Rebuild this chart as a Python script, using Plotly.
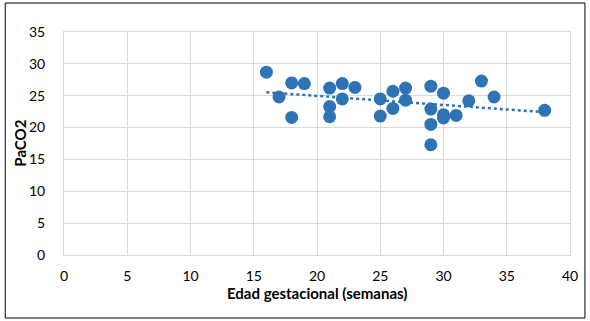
import numpy as np
import plotly.graph_objects as go

edad = [16, 17, 18, 18, 19, 21, 21, 21, 22, 22, 23, 25, 25, 26, 26, 27, 27,
        29, 29, 29, 29, 30, 30, 30, 31, 32, 33, 34, 38]
paco2 = [28.7, 24.8, 27.0, 21.6, 26.9, 26.2, 23.3, 21.7, 26.9, 24.5, 26.3, 24.5, 21.8,
         25.7, 23.0, 26.2, 24.3, 26.5, 22.9, 20.5, 17.3, 25.4, 22.0, 21.5, 21.9,
         24.2, 27.3, 24.8, 22.7]
x_title = "Edad gestacional (semanas)"
y_title = "PaCO2"

blue = "#2E74B5"
grid = "#D9D9D9"
font_family = "Lato, 'Open Sans', sans-serif"

coef = np.polyfit(edad, paco2, 1)
xt = np.array([min(edad), max(edad)])
yt = np.polyval(coef, xt)

fig = go.Figure()
fig.add_trace(go.Scatter(x=xt, y=yt, mode="lines",
                         line=dict(color=blue, width=2.5, dash="dot"),
                         hoverinfo="skip", showlegend=False))
fig.add_trace(go.Scatter(x=edad, y=paco2, mode="markers",
                         marker=dict(color=blue, size=13, line=dict(width=0)),
                         showlegend=False))

W, L, R, T, B = 590, 64, 18, 32, 66
pw, ph = W - L - R, 321 - T - B

fig.update_layout(
    width=W, height=321,
    margin=dict(l=L, r=R, t=T, b=B),
    paper_bgcolor="white", plot_bgcolor="white",
    font=dict(family=font_family, size=14, color="#000000"),
    xaxis=dict(range=[0, 40], dtick=5, tick0=0, showgrid=True, gridcolor=grid,
               gridwidth=1, showline=True, linecolor=grid, mirror=True,
               zeroline=False, ticks="", ticklabelstandoff=8),
    yaxis=dict(range=[0, 35], dtick=5, tick0=0, showgrid=True, gridcolor=grid,
               gridwidth=1, showline=True, linecolor=grid, mirror=True,
               zeroline=False, ticks="", ticklabelstandoff=15),
    annotations=[
        dict(text=f"<b>{x_title}</b>", xref="paper", yref="paper",
             x=0.5, y=-(293 - 255) / ph, xanchor="center", yanchor="middle",
             showarrow=False, font=dict(size=15)),
        dict(text=f"<b>{y_title}</b>", xref="paper", yref="paper",
             x=(19 - L) / pw, y=0.5, xanchor="center", yanchor="middle",
             textangle=-90, showarrow=False, font=dict(size=15)),
    ],
    shapes=[dict(type="rect", xref="paper", yref="paper",
                 x0=-(L - 5) / pw, x1=(587 - L) / pw, y0=-(318 - 255) / ph, y1=(255 - 3) / ph,
                 line=dict(color="black", width=1))],
)

fig.write_html("out.html", config={"displayModeBar": False})
with open("out.html", encoding="utf-8") as f:
    html = f.read()
html = html.replace("<head>", "<head><style>html,body{margin:0;padding:0;overflow:hidden}</style>", 1)
with open("out.html", "w", encoding="utf-8") as f:
    f.write(html)
